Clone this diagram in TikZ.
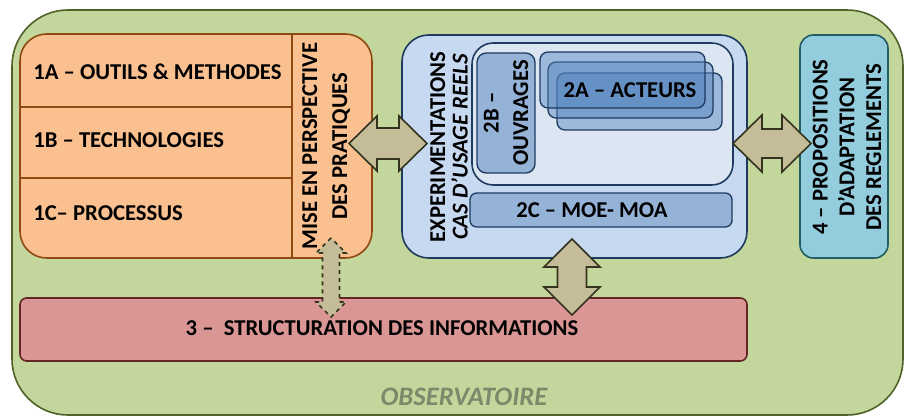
\documentclass[tikz,border=0pt]{standalone}
\usepackage{fontspec}
\setmainfont{Carlito}
\usetikzlibrary{fit}
\definecolor{bgG}{HTML}{C3D69B}
\definecolor{bgGd}{HTML}{4F6228}
\definecolor{orF}{HTML}{FAC08F}
\definecolor{orD}{HTML}{8E4A12}
\definecolor{blF}{HTML}{C6D9F1}
\definecolor{blD}{HTML}{1F3A5F}
\definecolor{inF}{HTML}{DCE6F2}
\definecolor{mbF}{HTML}{95B3D7}
\definecolor{acF}{HTML}{4F81BD}
\definecolor{tqF}{HTML}{93CDDD}
\definecolor{tqD}{HTML}{245E62}
\definecolor{rdF}{HTML}{D99694}
\definecolor{rdD}{HTML}{632523}
\definecolor{arF}{HTML}{C4BD97}
\definecolor{arD}{HTML}{33331F}
\definecolor{obsT}{HTML}{7A8A6A}
\newcommand\dblH[7][]{%
 \draw[arrowbox,#1] ({#2-#4},#3) -- ({#2-#4+#5},{#3-#6}) -- ({#2-#4+#5},{#3-#7})
  -- ({#2+#4-#5},{#3-#7}) -- ({#2+#4-#5},{#3-#6}) -- ({#2+#4},#3)
  -- ({#2+#4-#5},{#3+#6}) -- ({#2+#4-#5},{#3+#7}) -- ({#2-#4+#5},{#3+#7})
  -- ({#2-#4+#5},{#3+#6}) -- cycle;}
\newcommand\dblV[7][]{%
 \draw[arrowbox,#1] (#2,{#3-#4}) -- ({#2-#6},{#3-#4+#5}) -- ({#2-#7},{#3-#4+#5})
  -- ({#2-#7},{#3+#4-#5}) -- ({#2-#6},{#3+#4-#5}) -- (#2,{#3+#4})
  -- ({#2+#6},{#3+#4-#5}) -- ({#2+#7},{#3+#4-#5}) -- ({#2+#7},{#3-#4+#5})
  -- ({#2+#6},{#3-#4+#5}) -- cycle;}
\begin{document}
\begin{tikzpicture}[x=0.75pt,y=-0.75pt,
  lbl/.style={font=\fontsize{17}{20}\selectfont\bfseries, inner sep=0pt, text=black},
  boxfit/.style={inner sep=0pt, line width=1.2pt},
  arrowbox/.style={fill=arF, draw=arD, line width=1.2pt, line join=miter},
  acteur/.style={boxfit, fill=acF, fill opacity=0.45, draw=blD, draw opacity=1, rounded corners=6pt, line width=1pt},
]
\useasboundingbox (0,0) rectangle (906,417);
\fill[white] (0,0) rectangle (906,417);
% observatoire
\node[boxfit, draw=bgGd, fill=bgG, rounded corners=42pt, fit={(12,10)(903,415)}] (obsbox) {};
\node[font=\fontsize{20}{23}\selectfont\bfseries\itshape, text=obsT, inner sep=0pt] (obslbl) at (464,397) {OBSERVATOIRE};
% orange block
\node[boxfit, draw=orD, fill=orF, rounded corners=20pt, fit={(20,34)(372,258)}] (orange) {};
\draw[orD, line width=1.2pt] (orange.west |- 0,107) -- (292,107);
\draw[orD, line width=1.2pt] (orange.west |- 0,178) -- (292,178);
\draw[orD, line width=1.2pt] (orange.north -| 292,0) -- (orange.south -| 292,0);
\node[lbl, anchor=base west] (t1a) at (33,80) {1A – OUTILS \& METHODES};
\node[lbl, anchor=base west] (t1b) at (33,148) {1B – TECHNOLOGIES};
\node[lbl, anchor=base west] (t1c) at (33,220) {1C– PROCESSUS};
\node[lbl, rotate=90, align=center, font=\fontsize{17}{22.5}\selectfont\bfseries] (mise) at (326,146) {MISE EN PERSPECTIVE\\DES PRATIQUES};
% blue block
\node[boxfit, draw=blD, fill=blF, rounded corners=20pt, fit={(402,35)(747,258)}] (exper) {};
\node[boxfit, draw=blD, fill=inF, rounded corners=16pt, fit={(472,43)(733,185)}] (inner) {};
\node[lbl, rotate=90, align=center, font=\fontsize{17}{17}\selectfont\bfseries] (explbl) at (449,147) {EXPERIMENTATIONS\\\textit{CAS D'USAGE REELS}};
\node[boxfit, draw=blD, fill=mbF, rounded corners=7pt, line width=1pt, fit={(477,53)(535,173)}] (ouvr) {};
\node[lbl, rotate=90, align=center, font=\fontsize{17}{22}\selectfont\bfseries] at (ouvr.center) {2B –\\OUVRAGES};
\node[acteur, fit={(557,73)(722,130)}] (act3) {};
\node[acteur, fit={(548,62)(713,118)}] (act2) {};
\node[acteur, fit={(540,52)(705,108)}] (act1) {};
\node[lbl] (actlbl) at (630,90) {2A – ACTEURS};
\node[boxfit, draw=blD, fill=mbF, rounded corners=5pt, line width=1pt, fit={(470,193)(732,227)}] (moe) {};
\node[lbl] (moelbl) at (592,210) {2C – MOE- MOA};
% box 4
\node[boxfit, draw=tqD, fill=tqF, rounded corners=10pt, fit={(800,35)(888,258)}] (regl) {};
\node[lbl, rotate=90, align=center, font=\fontsize{17}{20}\selectfont\bfseries] (regllbl) at (847,147) {4 – PROPOSITIONS\\D'ADAPTATION\\DES REGLEMENTS};
% box 3
\node[boxfit, draw=rdD, fill=rdF, rounded corners=5pt, fit={(20,298)(747,361)}] (struct) {};
\node[lbl] (structlbl) at (382,328) {3 –\ \ STRUCTURATION DES INFORMATIONS};
% arrows
\dblH{388}{143.5}{39}{28}{27.5}{15.5}
\dblH{772}{143.5}{39}{29}{28.5}{14.5}
\dblV{572}{277}{38}{28}{28}{14.5}
\dblV[dashed]{331}{277.5}{39.5}{15}{15}{8.5}
\end{tikzpicture}
\end{document}
